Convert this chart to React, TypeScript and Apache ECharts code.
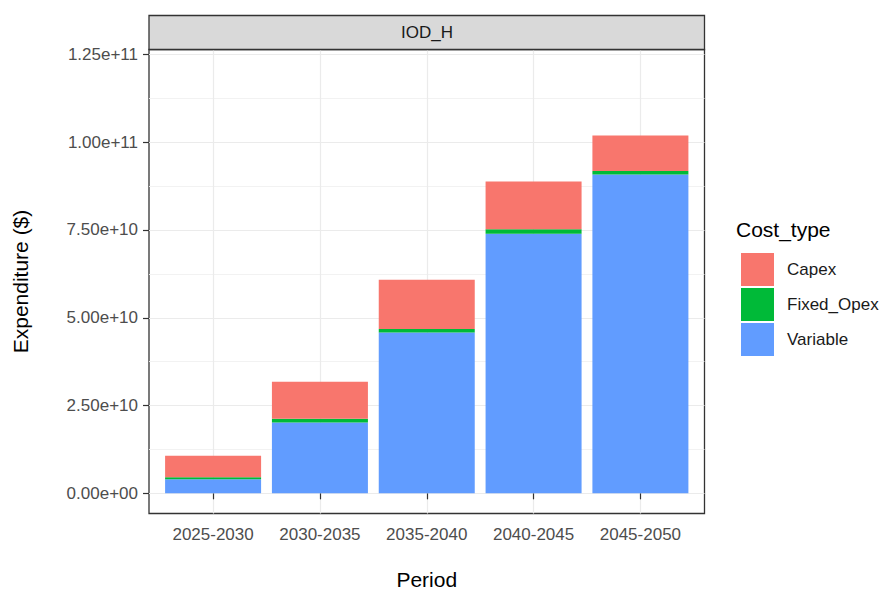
import React, { useEffect, useRef } from 'react';
import * as echarts from 'echarts';

const categories = ['2025-2030', '2030-2035', '2035-2040', '2040-2045', '2045-2050'];
const xPositions = [1, 2, 3, 4, 5];
const variableValues = [4.0e9, 20.2e9, 45.8e9, 73.9e9, 90.8e9];
const fixedOpexValues = [0.6e9, 1.0e9, 1.0e9, 1.3e9, 1.0e9];
const capexValues = [6.1e9, 10.6e9, 14.0e9, 13.6e9, 10.1e9];
const yTickValues = [0, 2.5e10, 5e10, 7.5e10, 1e11, 1.25e11];
const yTickLabels = ['0.00e+00', '2.50e+10', '5.00e+10', '7.50e+10', '1.00e+11', '1.25e+11'];
const yMinorValues = [1.25e10, 3.75e10, 6.25e10, 8.75e10, 1.125e11];
const legendNames = ['Capex', 'Fixed_Opex', 'Variable'];

const FONT = '"Liberation Sans", Arial, sans-serif';
const Y_MIN = -5.75e9;
const Y_MAX = 126.4e9;

export default function App() {
  const ref = useRef<HTMLDivElement>(null);

  useEffect(() => {
    if (!ref.current) return;
    const chart = echarts.init(ref.current, undefined, { renderer: 'svg' });
    // value first so that it is the stacked dimension; position second
    const toPairs = (vals: number[]) => xPositions.map((x, i) => [vals[i], x]);
    const barBase = {
      type: 'bar',
      stack: 'total',
      barWidth: 96,
      xAxisIndex: 0,
      yAxisIndex: 0,
      encode: { x: 1, y: 0 },
    };

    chart.setOption({
      animation: false,
      backgroundColor: '#ffffff',
      textStyle: { fontFamily: FONT },
      grid: {
        left: 149,
        right: 175.5,
        top: 49.5,
        bottom: 77.5,
        containLabel: false,
        outerBoundsMode: 'none',
        show: true,
        borderColor: '#333333',
        borderWidth: 1.3,
        backgroundColor: 'transparent',
      },
      legend: {
        data: legendNames,
        orient: 'vertical',
        left: 736,
        top: 248,
        itemWidth: 33,
        itemHeight: 33,
        itemGap: 2,
        icon: 'rect',
        selectedMode: false,
        textStyle: { fontSize: 17, color: '#1a1a1a', fontFamily: FONT, padding: [0, 0, 0, 8] },
      },
      xAxis: {
        type: 'value',
        min: 0.4,
        max: 5.6,
        name: 'Period',
        nameLocation: 'middle',
        nameGap: 55.5,
        nameTextStyle: { fontSize: 21, color: '#000000', fontFamily: FONT },
        axisLine: { show: false },
        axisTick: { show: true, length: 6, lineStyle: { color: '#333333', width: 1.2 }, customValues: xPositions },
        axisLabel: {
          customValues: xPositions,
          margin: 12,
          fontSize: 17,
          color: '#4d4d4d',
          fontFamily: FONT,
          formatter: (v: number) => categories[Math.round(v) - 1] ?? '',
        },
        splitLine: { show: true, lineStyle: { color: '#ebebeb', width: 1.2 } },
      },
      yAxis: [
        {
          type: 'value',
          min: Y_MIN,
          max: Y_MAX,
          name: 'Expenditure ($)',
          nameLocation: 'middle',
          nameGap: 118,
          nameTextStyle: { fontSize: 21, color: '#000000', fontFamily: FONT },
          axisLine: { show: false },
          axisTick: { show: true, length: 6, lineStyle: { color: '#333333', width: 1.2 }, customValues: yTickValues },
          axisLabel: {
            customValues: yTickValues,
            margin: 11,
            fontSize: 17,
            color: '#4d4d4d',
            fontFamily: FONT,
            formatter: (v: number) => {
              const i = yTickValues.findIndex((t) => Math.abs(t - v) < 1e3);
              return i >= 0 ? yTickLabels[i] : '';
            },
          },
          splitLine: { show: true, lineStyle: { color: '#ebebeb', width: 1.2 } },
        },
        {
          type: 'value',
          min: Y_MIN,
          max: Y_MAX,
          position: 'left',
          axisLine: { show: false },
          axisTick: { show: false, customValues: yMinorValues },
          axisLabel: { show: false, customValues: yMinorValues },
          splitLine: { show: true, lineStyle: { color: '#f0f0f0', width: 0.9 } },
        },
      ],
      series: [
        { ...barBase, name: 'Variable', data: toPairs(variableValues), itemStyle: { color: '#619CFF' } },
        { ...barBase, name: 'Fixed_Opex', data: toPairs(fixedOpexValues), itemStyle: { color: '#00BA38' } },
        { ...barBase, name: 'Capex', data: toPairs(capexValues), itemStyle: { color: '#F8766D' } },
      ],
      graphic: [
        {
          type: 'rect',
          shape: { x: 149, y: 15.5, width: 555.5, height: 34 },
          style: { fill: '#d9d9d9', stroke: '#333333', lineWidth: 1.3 },
          z: 10,
        },
        {
          type: 'text',
          x: 427,
          y: 32.5,
          style: {
            text: 'IOD_H',
            fontSize: 17,
            fill: '#1a1a1a',
            fontFamily: FONT,
            align: 'center',
            verticalAlign: 'middle',
          },
          z: 11,
        },
        {
          type: 'text',
          x: 736,
          y: 229,
          style: {
            text: 'Cost_type',
            fontSize: 21,
            fill: '#000000',
            fontFamily: FONT,
            align: 'left',
            verticalAlign: 'middle',
          },
        },
      ],
    });

    return () => chart.dispose();
  }, []);

  return (
    <div
      ref={ref}
      style={{ position: 'fixed', left: 0, top: 0, width: 880, height: 591, background: '#fff' }}
    />
  );
}
